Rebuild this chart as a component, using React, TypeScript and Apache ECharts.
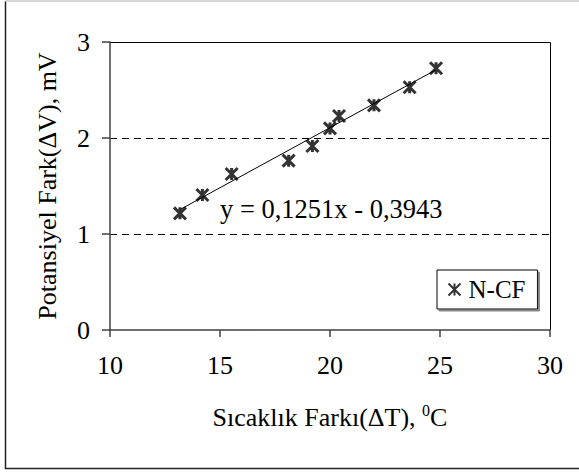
import React, { useEffect, useRef } from 'react';
import * as echarts from 'echarts';

const deltaT = [13.18, 14.2, 15.53, 18.12, 19.2, 20.0, 20.41, 22.0, 23.62, 24.82];
const deltaV = [1.215, 1.406, 1.625, 1.764, 1.917, 2.1, 2.229, 2.34, 2.528, 2.726];
const seriesName = 'N-CF';
const trendSlope = 0.1251;
const trendIntercept = -0.3943;
const equationText = 'y = 0,1251x - 0,3943';
const xAxisTitle = 'Sıcaklık Farkı(ΔT), ';
const yAxisTitle = 'Potansiyel Fark(ΔV), mV';

const FONT = 'Liberation Serif';
const MARKER = 'path://M0 0L12 12M12 0L0 12M6 0L6 12';

export default function App() {
  const ref = useRef<HTMLDivElement>(null);
  useEffect(() => {
    if (!ref.current) return;
    const chart = echarts.init(ref.current, null, { renderer: 'svg' });
    const points = deltaT.map((x, i) => [x, deltaV[i]]);
    const xMin = Math.min(...deltaT);
    const xMax = Math.max(...deltaT);
    const trend = [xMin, xMax].map((x) => [x, trendSlope * x + trendIntercept]);
    chart.setOption({
      animation: false,
      backgroundColor: '#fff',
      textStyle: { fontFamily: FONT, color: '#000' },
      grid: {
        left: 110,
        right: 29,
        top: 42,
        bottom: 143,
        show: false,
        containLabel: false,
      },
      xAxis: {
        type: 'value',
        min: 10,
        max: 30,
        interval: 5,
        name: '{a|' + xAxisTitle + '}{s|0}{a|C}',
        nameLocation: 'middle',
        nameGap: 72,
        nameTextStyle: {
          rich: {
            a: { fontFamily: FONT, fontSize: 26, color: '#000', lineHeight: 30 },
            s: { fontFamily: FONT, fontSize: 16, color: '#000', verticalAlign: 'top', lineHeight: 30 },
          },
        },
        axisLine: { show: true, onZero: false, lineStyle: { color: '#404040', width: 1.5 } },
        axisTick: { show: true, inside: false, length: 7, lineStyle: { color: '#404040', width: 1.5 } },
        axisLabel: { fontFamily: FONT, fontSize: 26, color: '#000', margin: 22 },
        splitLine: { show: false },
      },
      yAxis: {
        type: 'value',
        min: 0,
        max: 3,
        interval: 1,
        name: yAxisTitle,
        nameLocation: 'middle',
        nameGap: 50,
        nameRotate: 90,
        nameTextStyle: { fontFamily: FONT, fontSize: 26, color: '#000' },
        axisLine: { show: true, onZero: false, lineStyle: { color: '#404040', width: 1.5 } },
        axisTick: { show: true, inside: false, length: 8, lineStyle: { color: '#404040', width: 1.5 } },
        axisLabel: { fontFamily: FONT, fontSize: 26, color: '#000', margin: 20 },
        splitLine: { show: true, showMinLine: false, showMaxLine: false, lineStyle: { color: '#000', width: 1, type: [7, 5] } },
      },
      legend: {
        data: [seriesName],
        left: 437,
        top: 270,
        orient: 'vertical',
        padding: [7, 12, 7, 9],
        itemWidth: 12,
        itemHeight: 12,
        backgroundColor: '#fff',
        borderColor: '#000',
        borderWidth: 1,
        shadowColor: '#888',
        shadowOffsetX: 2,
        shadowOffsetY: 2,
        shadowBlur: 0,
        textStyle: { fontFamily: FONT, fontSize: 25, color: '#000', padding: [0, 0, 0, 3] },
      },
      graphic: [
        { type: 'line', shape: { x1: 5.5, y1: 1, x2: 5.5, y2: 469 }, style: { stroke: '#222', lineWidth: 1.5 } },
        { type: 'line', shape: { x1: 5, y1: 468.5, x2: 579, y2: 468.5 }, style: { stroke: '#222', lineWidth: 1.5 } },
        { type: 'line', shape: { x1: 5, y1: 1, x2: 579, y2: 1 }, style: { stroke: '#c8c8c8', lineWidth: 1.5 } },
        { type: 'line', shape: { x1: 110, y1: 42.5, x2: 550.5, y2: 42.5 }, style: { stroke: '#000', lineWidth: 1 } },
        { type: 'line', shape: { x1: 550.5, y1: 42.5, x2: 550.5, y2: 330 }, style: { stroke: '#000', lineWidth: 1 } },
        {
          type: 'text',
          x: 220,
          y: 209,
          style: {
            text: equationText,
            fontFamily: FONT,
            fontSize: 26.5,
            fill: '#000',
            textAlign: 'left',
            textVerticalAlign: 'middle',
          },
          z: 10,
        },
      ],
      series: [
        {
          name: 'Trend',
          type: 'line',
          data: trend,
          symbol: 'none',
          lineStyle: { color: '#000', width: 1 },
          silent: true,
          z: 2,
        },
        {
          name: seriesName,
          type: 'scatter',
          data: points,
          symbol: MARKER,
          symbolSize: 12,
          itemStyle: { color: 'none', borderColor: '#000', borderWidth: 3 },
          z: 3,
        },
      ],
    });
    return () => chart.dispose();
  }, []);
  return <div ref={ref} style={{ position: 'fixed', left: 0, top: 0, width: 579, height: 473 }} />;
}
